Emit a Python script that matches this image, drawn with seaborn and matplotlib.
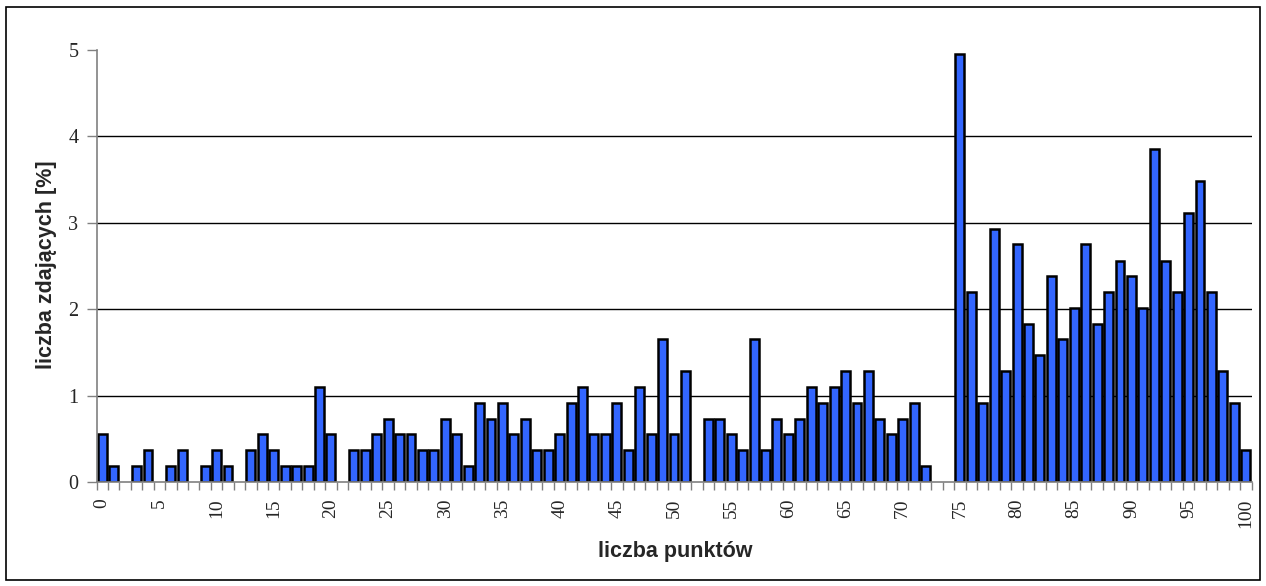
import numpy as np
import pandas as pd
import seaborn as sns
import matplotlib.pyplot as plt
from matplotlib.patches import Rectangle

# liczba punktów 0..100
punkty = list(range(0, 101))
# liczba zdających [%]
procent = [
    0.55, 0.18, 0.00, 0.18, 0.37, 0.00, 0.18, 0.37, 0.00, 0.18,   # 0-9
    0.37, 0.18, 0.00, 0.37, 0.55, 0.37, 0.18, 0.18, 0.18, 1.10,   # 10-19
    0.55, 0.00, 0.37, 0.37, 0.55, 0.73, 0.55, 0.55, 0.37, 0.37,   # 20-29
    0.73, 0.55, 0.18, 0.92, 0.73, 0.92, 0.55, 0.73, 0.37, 0.37,   # 30-39
    0.55, 0.92, 1.10, 0.55, 0.55, 0.92, 0.37, 1.10, 0.55, 1.65,   # 40-49
    0.55, 1.28, 0.00, 0.73, 0.73, 0.55, 0.37, 1.65, 0.37, 0.73,   # 50-59
    0.55, 0.73, 1.10, 0.92, 1.10, 1.28, 0.92, 1.28, 0.73, 0.55,   # 60-69
    0.73, 0.92, 0.18, 0.00, 0.00, 4.95, 2.20, 0.92, 2.93, 1.28,   # 70-79
    2.75, 1.83, 1.47, 2.38, 1.65, 2.01, 2.75, 1.83, 2.20, 2.56,   # 80-89
    2.38, 2.01, 3.85, 2.56, 2.20, 3.11, 3.48, 2.20, 1.28, 0.92,   # 90-99
    0.37,                                                          # 100
]
y_ticks = [0, 1, 2, 3, 4, 5]
x_labels = list(range(0, 101, 5))

df = pd.DataFrame({"punkty": punkty, "procent": procent})

sns.set_style("white")
fig = plt.figure(figsize=(12.66, 5.86), dpi=100)
ax = fig.add_axes([96.5 / 1266, 1 - 482 / 586, (1251.5 - 96.5) / 1266, (482 - 50) / 586])

# siatka pozioma
for v in y_ticks[1:-1]:
    ax.axhline(v, color="black", lw=1.0, zorder=0)

sns.barplot(data=df, x="punkty", y="procent", order=punkty, color="#3366ff",
            saturation=1, width=0.78, edgecolor="black", linewidth=1.8, ax=ax, zorder=2)
for p in ax.patches:
    if p.get_height() == 0:
        p.set_visible(False)

ax.set_xlim(-0.5, 100.5)
ax.set_ylim(0, 5)

serif = "Liberation Serif"
ax.set_yticks(y_ticks)
ax.set_yticklabels([str(t) for t in y_ticks], fontfamily=serif, fontsize=14.5)
ax.set_xticks(x_labels)
ax.set_xticklabels([str(t) for t in x_labels], rotation=90, fontfamily=serif, fontsize=14)
ax.set_xticks(np.arange(-0.5, 101, 1), minor=True)
ax.tick_params(axis="x", which="major", length=0, pad=12)
ax.tick_params(axis="x", which="minor", length=6, width=1, color="#808080", direction="out", bottom=True)
ax.tick_params(axis="y", length=7, width=1, color="#808080", direction="out", left=True, pad=6)

for s in ["top", "right"]:
    ax.spines[s].set_visible(False)
for s in ["left", "bottom"]:
    ax.spines[s].set_color("#808080")
    ax.spines[s].set_linewidth(1.2)

ax.set_xlabel("liczba punktów", fontfamily="Liberation Sans", fontweight="bold", fontsize=15.5)
ax.set_ylabel("liczba zdających [%]", fontfamily="Liberation Sans", fontweight="bold", fontsize=15.5)
ax.xaxis.set_label_coords(0.501, -0.162)
ax.xaxis.label.set_va("center")
ax.yaxis.set_label_coords(-0.043, 0.502)
ax.yaxis.label.set_va("center")

fig.patches.append(Rectangle((6 / 1266, 6 / 586), 1254 / 1266, 573 / 586, transform=fig.transFigure,
                             fill=False, edgecolor="black", lw=1.2))

fig.savefig("out.png", dpi=100)
